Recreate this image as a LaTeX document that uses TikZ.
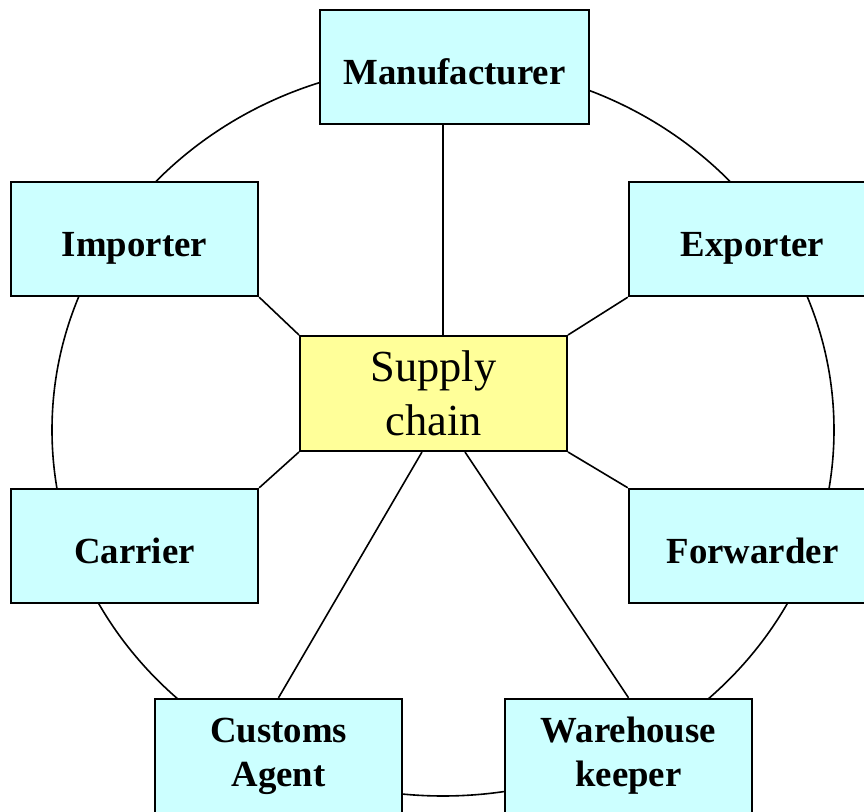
\documentclass[tikz,border=0pt]{standalone}
\usepackage{fontspec}
\setmainfont{Liberation Serif}
\usepackage{tikz}
\usetikzlibrary{shapes.geometric}

\definecolor{boxcyan}{HTML}{CCFFFF}
\definecolor{boxyellow}{HTML}{FFFF99}

\begin{document}
\begin{tikzpicture}[x=0.5pt, y=-0.5pt,
	party/.style = {draw, rectangle, fill=boxcyan, line width=1.2pt, minimum width=123.5pt, minimum height=57pt, inner sep=0pt, align=center, font=\fontsize{18.4}{22}\selectfont\bfseries},
	oneline/.style = {text height=18pt, text depth=0pt},
	hub/.style = {draw, rectangle, fill=boxyellow, line width=1pt, minimum width=133.5pt, minimum height=57.5pt, inner sep=0pt, align=center, font=\fontsize{22.2}{25}\selectfont},
	link/.style = {line width=0.8pt}]
		\useasboundingbox (0,0) rectangle (864,812);
		\coordinate (o) at (443,430);
		
		% pierscien wokol lancucha
		\draw[link] (o) ellipse [x radius=195.5pt, y radius=183pt];
		
		\node[hub] (sc) at (433.5,393.5) {Supply\\[2pt]chain};
		
		\node[party, oneline, minimum width=134.5pt] (mf) at (454.5,67) {Manufacturer};
		\node[party, oneline] (im) at (134.5,239) {Importer};
		\node[party, oneline] (ex) at (752.5,239) {Exporter};
		\node[party, oneline] (ca) at (134.5,546) {Carrier};
		\node[party, oneline] (fw) at (752.5,546) {Forwarder};
		\node[party] (cu) at (278.5,756) {Customs\\Agent};
		\node[party] (wh) at (628.5,756) {Warehouse\\keeper};
		
		\draw[link] (mf.south -| o) -- (sc.north -| o);
		\draw[link] (im.south east) -- (sc.north west);
		\draw[link] (ex.south west) -- (sc.north east);
		\draw[link] (ca.north east) -- (sc.south west);
		\draw[link] (fw.north west) -- (sc.south east);
		\draw[link] (sc.south -| 422,0) -- (cu.north);
		\draw[link] (sc.south -| 465,0) -- (wh.north);
	\end{tikzpicture}
\end{document}
